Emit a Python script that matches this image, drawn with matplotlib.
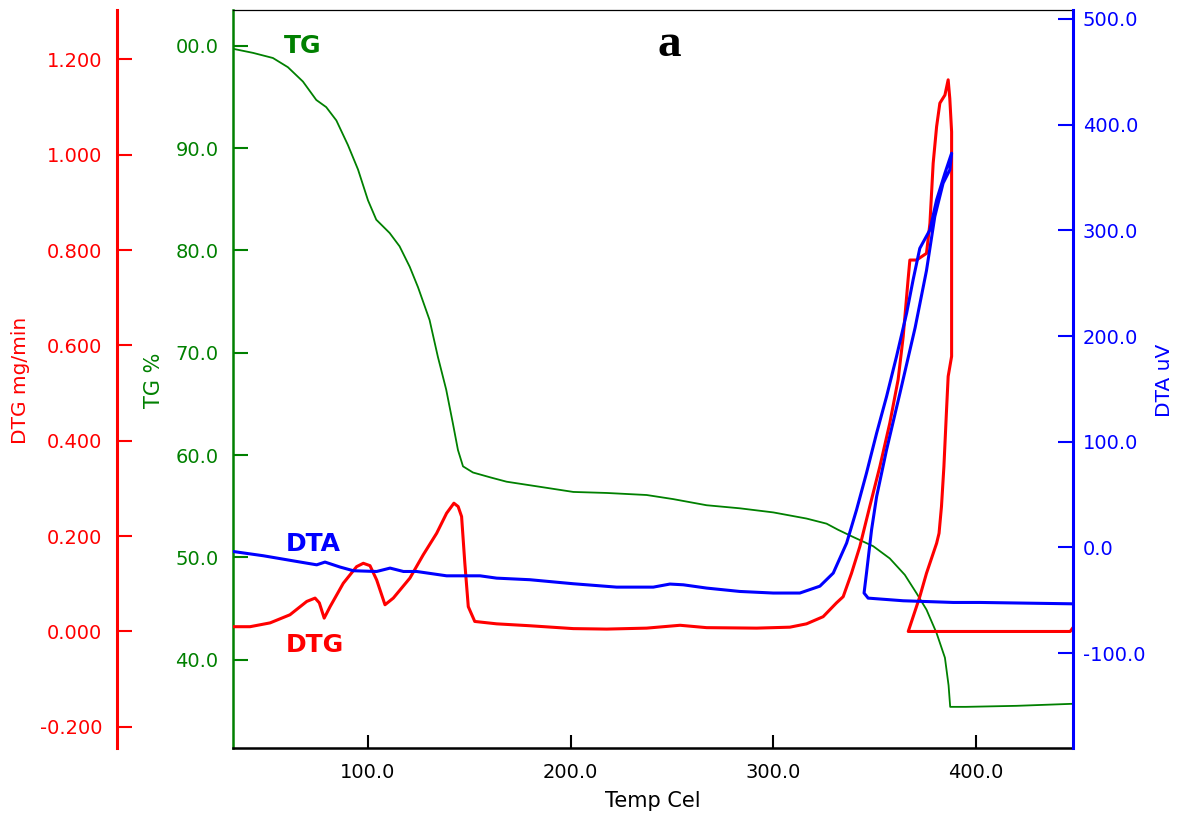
import numpy as np
import matplotlib
matplotlib.use("Agg")
import matplotlib.pyplot as plt

# TG curve (temperature in Cel, mass %)
tg_temp = [33.4, 43.3, 53.1, 60.5, 67.9, 74.5, 79.4, 84.4, 90.1, 95.1, 100.0, 104.1, 110.7,
           115.6, 120.6, 124.7, 130.4, 134.5, 138.6, 141.9, 144.4, 146.9, 151.8, 160.8, 168.4,
           184.9, 201.3, 217.8, 237.5, 250.6, 267.1, 283.5, 300.0, 316.4, 326.3, 332.0, 339.4,
           349.3, 357.5, 364.9, 370.7, 375.6, 380.6, 384.7, 386.5, 387.3, 395.0, 420.0, 447.9]
tg_val = [99.7, 99.3, 98.8, 97.9, 96.5, 94.7, 94.0, 92.7, 90.3, 87.9, 84.9, 83.0, 81.7,
          80.4, 78.4, 76.4, 73.2, 69.6, 66.4, 63.1, 60.5, 58.9, 58.3, 57.8, 57.4,
          56.9, 56.4, 56.3, 56.1, 55.7, 55.1, 54.8, 54.4, 53.8, 53.3, 52.7, 52.0,
          51.1, 49.9, 48.3, 46.5, 44.9, 42.6, 40.2, 37.5, 35.4, 35.4, 35.5, 35.7]

# DTG curve (mg/min) - temperature runs back on itself during the ignition
dtg_temp = [33.5, 41.8, 51.7, 61.5, 69.8, 73.9, 76.0, 78.4, 81.3, 87.8, 94.4, 97.7, 101.0,
            104.3, 108.4, 112.5, 120.7, 127.3, 133.9, 138.8, 142.4, 144.5, 146.2, 147.8, 149.5,
            152.7, 163.5, 179.9, 201.3, 217.8, 237.5, 254.0, 267.1, 291.8, 308.2, 316.4, 324.6,
            331.2, 334.5, 338.6, 342.7, 347.6, 352.6, 357.5, 361.6, 364.1, 366.5, 367.4, 370.7,
            375.6, 377.3, 378.9, 380.6, 382.2, 384.7, 386.3, 387.1, 388.0, 388.0, 386.3, 385.5,
            384.2, 383.0, 381.8, 380.6, 375.6, 372.3, 366.6, 400.0, 446.5, 447.9]
dtg_val = [0.010, 0.010, 0.018, 0.035, 0.063, 0.070, 0.060, 0.028, 0.052, 0.101, 0.136, 0.143, 0.138,
           0.108, 0.056, 0.070, 0.112, 0.161, 0.206, 0.248, 0.269, 0.262, 0.241, 0.143, 0.052,
           0.021, 0.016, 0.012, 0.006, 0.005, 0.007, 0.013, 0.008, 0.007, 0.009, 0.016, 0.031,
           0.060, 0.073, 0.122, 0.178, 0.262, 0.346, 0.437, 0.528, 0.618, 0.737, 0.779, 0.779,
           0.793, 0.856, 0.982, 1.059, 1.108, 1.125, 1.157, 1.118, 1.048, 0.577, 0.535, 0.465,
           0.346, 0.262, 0.206, 0.185, 0.122, 0.073, 0.000, 0.000, 0.000, 0.008]

# DTA curve (uV)
dta_temp = [33.5, 48.3, 64.8, 74.7, 78.8, 86.2, 92.8, 104.3, 110.9, 117.5, 124.0, 138.8, 155.3,
            163.5, 179.9, 201.3, 222.7, 240.8, 249.0, 255.6, 267.1, 283.5, 300.0, 313.1, 323.0,
            329.6, 336.2, 341.1, 346.0, 351.0, 355.9, 360.8, 365.8, 369.0, 372.3, 377.3, 380.6,
            384.7, 388.0, 387.1, 383.8, 379.7, 375.6, 370.0, 362.5, 355.9, 351.0, 348.5, 346.0,
            344.8, 346.8, 364.1, 388.8, 401.9, 447.9]
dta_val = [-3.8, -7.8, -13.2, -16.4, -13.8, -18.5, -22.0, -22.7, -19.5, -22.7, -22.7, -26.8, -26.8,
           -29.0, -30.5, -34.3, -37.5, -37.5, -34.6, -35.3, -38.4, -41.6, -43.1, -43.1, -36.6,
           -24.2, 4.2, 35.7, 70.4, 108.2, 142.8, 180.6, 221.7, 253.2, 283.0, 300.5, 328.8,
           354.1, 373.0, 357.2, 344.6, 313.0, 262.0, 208.0, 146.0, 92.4, 48.2, 16.7, -24.2,
           -43.1, -47.9, -50.4, -52.0, -52.0, -53.3]

x_ticks = [100, 200, 300, 400]
x_labels = ["100.0", "200.0", "300.0", "400.0"]
tg_ticks = [40, 50, 60, 70, 80, 90, 100]
tg_labels = ["40.0", "50.0", "60.0", "70.0", "80.0", "90.0", "00.0"]
dtg_ticks = [-0.2, 0.0, 0.2, 0.4, 0.6, 0.8, 1.0, 1.2]
dtg_labels = ["-0.200", "0.000", "0.200", "0.400", "0.600", "0.800", "1.000", "1.200"]
dta_ticks = [-100, 0, 100, 200, 300, 400, 500]
dta_labels = ["-100.0", "0.0", "100.0", "200.0", "300.0", "400.0", "500.0"]

GREEN = "#008000"
RED = "#ff0000"
BLUE = "#0000ff"

plt.rcParams["font.family"] = "DejaVu Sans"
fig = plt.figure(figsize=(11.83, 8.19), dpi=100)
ax = fig.add_axes([233 / 1183, 1 - 748 / 819, 840 / 1183, 738 / 819])
ax_dtg = ax.twinx()
ax_dta = ax.twinx()

ax.plot(tg_temp, tg_val, color=GREEN, lw=1.3)
ax_dtg.plot(dtg_temp, dtg_val, color=RED, lw=2.2)
ax_dta.plot(dta_temp, dta_val, color=BLUE, lw=2.2)

ax.set_xlim(33.4, 447.9)
ax.set_ylim(31.38, 103.49)
ax_dtg.set_ylim(-0.2444, 1.3034)
ax_dta.set_ylim(-189.7, 508.5)

# main axis: TG on the left, temperature at the bottom
ax.set_xticks(x_ticks, x_labels)
ax.set_yticks(tg_ticks, tg_labels)
ax.tick_params(axis="x", direction="in", length=9.5, width=1.5, labelsize=14, pad=11, colors="black")
ax.tick_params(axis="y", direction="in", length=11, width=1.5, labelsize=14, pad=10.5,
               colors=GREEN, right=False)
ax.spines["left"].set_color(GREEN)
ax.spines["left"].set_linewidth(1.8)
ax.spines["bottom"].set_linewidth(1.8)
ax.spines["top"].set_linewidth(0.9)
ax.spines["right"].set_visible(False)

# DTG axis pushed out to the left
ax_dtg.yaxis.tick_left()
ax_dtg.spines["left"].set_position(("axes", -116.3 / 840))
ax_dtg.spines["left"].set_color(RED)
ax_dtg.spines["left"].set_linewidth(2.2)
for s in ["right", "top", "bottom"]:
    ax_dtg.spines[s].set_visible(False)
ax_dtg.set_yticks(dtg_ticks, dtg_labels)
ax_dtg.tick_params(axis="y", direction="in", length=11, width=1.5, labelsize=14, pad=10.5,
                   colors=RED, right=False, labelright=False)

# DTA axis on the right
for s in ["left", "top", "bottom"]:
    ax_dta.spines[s].set_visible(False)
ax_dta.spines["right"].set_color(BLUE)
ax_dta.spines["right"].set_linewidth(2.2)
ax_dta.set_yticks(dta_ticks, dta_labels)
ax_dta.tick_params(axis="y", direction="in", length=11, width=1.5, labelsize=14, pad=7,
                   colors=BLUE)

# axis titles
fig.text(21 / 1183, 1 - 380 / 819, "DTG mg/min", color=RED, fontsize=14.5, rotation=90,
         ha="center", va="center")
fig.text(154 / 1183, 1 - 380 / 819, "TG %", color=GREEN, fontsize=15, rotation=90,
         ha="center", va="center")
fig.text(1165 / 1183, 1 - 380 / 819, "DTA uV", color=BLUE, fontsize=14.5, rotation=90,
         ha="center", va="center")
fig.text(653 / 1183, 1 - 801 / 819, "Temp Cel", color="black", fontsize=15, ha="center", va="center")

# curve tags and panel letter
fig.text(303 / 1183, 1 - 46 / 819, "TG", color=GREEN, fontsize=18, fontweight="bold",
         ha="center", va="center")
fig.text(313 / 1183, 1 - 544 / 819, "DTA", color=BLUE, fontsize=18, fontweight="bold",
         ha="center", va="center")
fig.text(315 / 1183, 1 - 645 / 819, "DTG", color=RED, fontsize=18, fontweight="bold",
         ha="center", va="center")
fig.text(669 / 1183, 1 - 45 / 819, "a", color="black", fontsize=34, fontweight="bold",
         family="Liberation Serif", ha="center", va="center")

fig.savefig("out.png", dpi=100)
